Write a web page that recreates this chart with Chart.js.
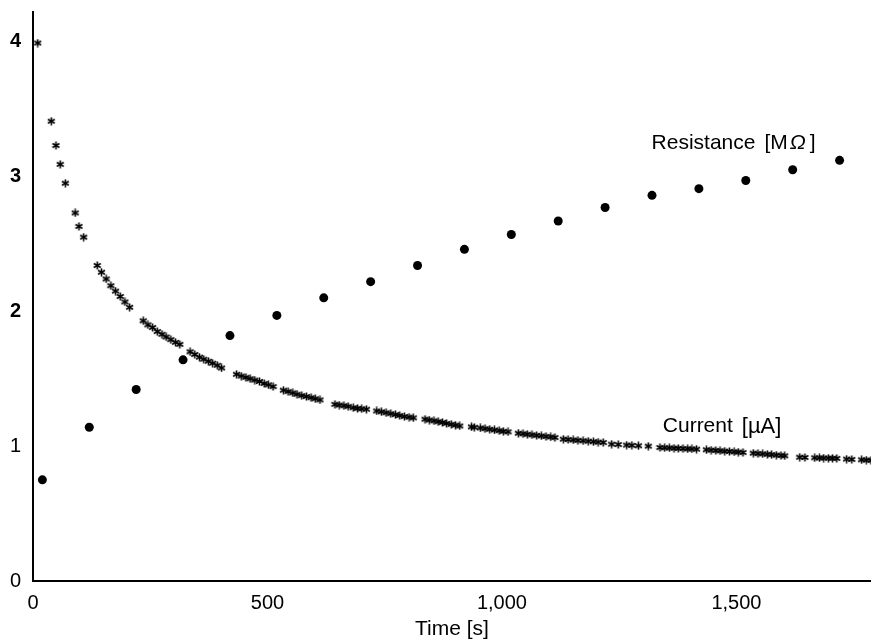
<!DOCTYPE html>
<html>
<head>
<meta charset="utf-8">
<script src="https://cdn.jsdelivr.net/npm/chart.js@4/dist/chart.umd.min.js"></script>
<style>
  html, body { margin: 0; padding: 0; background: #fff; }
  #wrap { width: 871px; height: 643px; position: relative; }
</style>
</head>
<body>
<div id="wrap"><canvas id="c" width="871" height="643"></canvas></div>
<script>
// ---- Data ----
const resistanceTime = [20, 120, 220, 320, 420, 520, 620, 720, 820, 920, 1020, 1120, 1220, 1320, 1420, 1520, 1620, 1720];
const resistanceValues = [0.75, 1.14, 1.42, 1.64, 1.82, 1.97, 2.10, 2.22, 2.34, 2.46, 2.57, 2.67, 2.77, 2.86, 2.91, 2.97, 3.05, 3.12];

const currentTime = [
  10, 39, 49, 58, 69, 90, 98, 108,
  137, 146, 156, 166, 176, 186, 196, 206,
  235, 245, 255, 265, 275, 284, 294, 304, 313,
  335, 345, 355, 364, 374, 383, 393, 402,
  434, 444, 454, 463, 473, 483, 493, 502, 512,
  534, 544, 554, 563, 573, 583, 593, 602, 612,
  644, 653, 663, 672, 683, 692, 701, 711,
  733, 743, 753, 763, 773, 782, 792, 802, 811,
  836, 845, 855, 864, 873, 882, 892, 901, 910,
  935, 941, 954, 964, 974, 984, 994, 1003, 1013,
  1035, 1045, 1054, 1064, 1074, 1084, 1094, 1104, 1113,
  1131, 1141, 1152, 1162, 1173, 1184, 1195, 1205, 1216,
  1234, 1248, 1266, 1277, 1291, 1312,
  1337, 1347, 1357, 1367, 1376, 1386, 1396, 1405, 1415,
  1436, 1446, 1456, 1465, 1475, 1485, 1495, 1504, 1514,
  1536, 1546, 1556, 1566, 1575, 1585, 1595, 1603,
  1635, 1646, 1667, 1677, 1686, 1696, 1705, 1714,
  1735, 1746, 1767, 1777, 1787
];
const currentValues = [
  3.99, 3.41, 3.23, 3.09, 2.95, 2.73, 2.63, 2.55,
  2.34, 2.29, 2.24, 2.19, 2.15, 2.11, 2.07, 2.03,
  1.93, 1.90, 1.88, 1.85, 1.83, 1.81, 1.79, 1.77, 1.755,
  1.70, 1.68, 1.66, 1.645, 1.63, 1.615, 1.60, 1.58,
  1.533, 1.52, 1.51, 1.50, 1.49, 1.48, 1.465, 1.455, 1.442,
  1.415, 1.405, 1.395, 1.385, 1.375, 1.368, 1.36, 1.352, 1.343,
  1.31, 1.305, 1.30, 1.295, 1.285, 1.28, 1.277, 1.274,
  1.261, 1.255, 1.248, 1.241, 1.234, 1.227, 1.22, 1.215, 1.21,
  1.20, 1.194, 1.188, 1.182, 1.176, 1.169, 1.162, 1.156, 1.150,
  1.143, 1.14, 1.135, 1.13, 1.125, 1.12, 1.115, 1.11, 1.106,
  1.096, 1.092, 1.088, 1.084, 1.08, 1.076, 1.072, 1.068, 1.064,
  1.052, 1.049, 1.046, 1.043, 1.04, 1.037, 1.033, 1.03, 1.027,
  1.015, 1.012, 1.008, 1.006, 1.003, 1.0,
  0.99, 0.988, 0.987, 0.985, 0.984, 0.982, 0.98, 0.979, 0.978,
  0.973, 0.971, 0.968, 0.966, 0.963, 0.961, 0.958, 0.956, 0.953,
  0.948, 0.945, 0.943, 0.94, 0.937, 0.934, 0.931, 0.928,
  0.918, 0.916, 0.914, 0.913, 0.912, 0.911, 0.91, 0.909,
  0.904, 0.902, 0.899, 0.897, 0.895
];

const xTicks = [0, 500, 1000, 1500];
const yTicks = [0, 1, 2, 3, 4];
const xAxisTitle = 'Time [s]';
const currentLabelParts = ['Current', '[µA]'];
const resistanceLabelParts = ['Resistance', '[M', 'Ω', ']'];

// ---- Asterisk marker ----
function makeAsterisk() {
  const c = document.createElement('canvas');
  c.width = 9; c.height = 9;
  const g = c.getContext('2d');
  g.strokeStyle = '#000';
  g.lineWidth = 1.6;
  g.lineCap = 'butt';
  const cx = 4.5, cy = 4.5, r = 4;
  for (let k = 0; k < 3; k++) {
    const a = Math.PI / 2 + k * Math.PI / 3;
    g.beginPath();
    g.moveTo(cx + r * Math.cos(a), cy + r * Math.sin(a));
    g.lineTo(cx - r * Math.cos(a), cy - r * Math.sin(a));
    g.stroke();
  }
  return c;
}
const asterisk = makeAsterisk();

const FONT = "'Liberation Sans', Arial, Helvetica, sans-serif";

const labelPlugin = {
  id: 'seriesLabels',
  afterDatasetsDraw(chart) {
    const ctx = chart.ctx;
    const xs = chart.scales.x, ys = chart.scales.y;
    ctx.save();
    ctx.fillStyle = '#000';
    ctx.textBaseline = 'middle';
    ctx.textAlign = 'left';
    const fN = '21px ' + FONT, fI = 'italic 21px ' + FONT, fB = '22px ' + FONT;
    // Current label, left edge anchored at data position
    let x = xs.getPixelForValue(1343);
    let y = ys.getPixelForValue(1.145);
    ctx.font = fN;
    ctx.fillText(currentLabelParts[0], x, y);
    x += ctx.measureText(currentLabelParts[0]).width + 9;
    ctx.font = fB;
    ctx.fillText(currentLabelParts[1], x, y);
    // Resistance label (Omega italic)
    x = xs.getPixelForValue(1319);
    y = ys.getPixelForValue(3.245);
    ctx.font = fN;
    ctx.fillText(resistanceLabelParts[0], x, y);
    x += ctx.measureText(resistanceLabelParts[0]).width + 9;
    ctx.fillText(resistanceLabelParts[1], x, y);
    x += ctx.measureText(resistanceLabelParts[1]).width + 2;
    ctx.font = fI;
    ctx.fillText(resistanceLabelParts[2], x, y);
    x += ctx.measureText(resistanceLabelParts[2]).width + 4;
    ctx.font = fN;
    ctx.fillText(resistanceLabelParts[3], x, y);
    ctx.restore();
  }
};

new Chart(document.getElementById('c'), {
  type: 'scatter',
  data: {
    datasets: [
      {
        label: 'Current [µA]',
        data: currentTime.map((t, i) => ({ x: t, y: currentValues[i] })),
        pointStyle: asterisk,
        pointRadius: 4,
        showLine: false
      },
      {
        label: 'Resistance [MΩ]',
        data: resistanceTime.map((t, i) => ({ x: t, y: resistanceValues[i] })),
        pointStyle: 'circle',
        pointRadius: 4.5,
        backgroundColor: '#000',
        borderColor: '#000',
        borderWidth: 0,
        showLine: false
      }
    ]
  },
  plugins: [labelPlugin],
  options: {
    responsive: false,
    animation: false,
    devicePixelRatio: 1,
    layout: { autoPadding: false, padding: { top: 12, right: 0, left: 0, bottom: 0 } },
    plugins: { legend: { display: false }, tooltip: { enabled: false } },
    scales: {
      x: {
        type: 'linear',
        min: 0,
        max: 1787,
        afterBuildTicks: (s) => { s.ticks = xTicks.map(v => ({ value: v })); },
        afterFit: (s) => { s.height = 62; s.paddingLeft = 0; s.paddingRight = 0; },
        grid: { display: false, drawTicks: false },
        border: { display: true, color: '#000', width: 2 },
        ticks: {
          color: '#000',
          padding: 10,
          maxRotation: 0,
          font: { family: FONT, size: 20 },
          callback: (v) => Number(v).toLocaleString('en-US')
        },
        title: {
          display: true,
          text: xAxisTitle,
          color: '#000',
          font: { family: FONT, size: 21 },
          padding: { top: 0, bottom: 1 }
        }
      },
      y: {
        type: 'linear',
        min: 0,
        max: 4.22,
        afterBuildTicks: (s) => { s.ticks = yTicks.map(v => ({ value: v })); },
        afterFit: (s) => { s.width = 33; s.paddingTop = 0; s.paddingBottom = 0; },
        grid: { display: false, drawTicks: false },
        border: { display: true, color: '#000', width: 2 },
        ticks: {
          color: '#000',
          padding: 12,
          font: (ctx) => ({ family: FONT, size: 20, weight: (ctx.tick && ctx.tick.value >= 2) ? 'bold' : 'normal' }),
          callback: (v) => String(v)
        }
      }
    }
  }
});
</script>
</body>
</html>
